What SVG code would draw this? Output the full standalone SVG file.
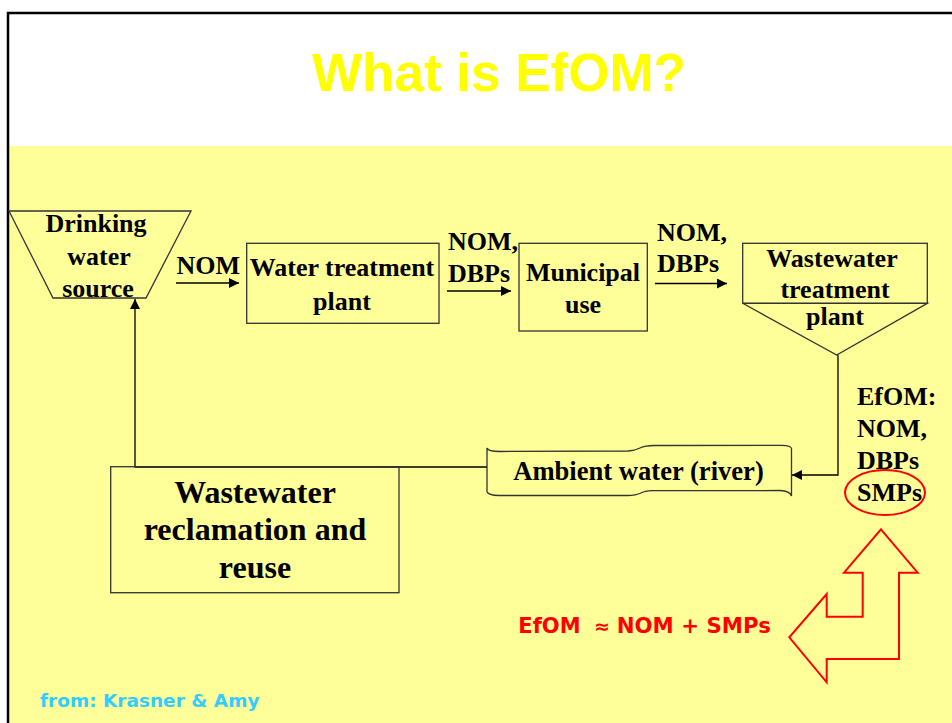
<svg xmlns="http://www.w3.org/2000/svg" width="952" height="723" viewBox="0 0 952 723">
<defs>
<style>
.lbl{font-family:"Liberation Serif","Times New Roman",serif;font-weight:bold;font-size:26px;fill:#000}
.big{font-family:"Liberation Serif","Times New Roman",serif;font-weight:bold;font-size:32px;fill:#000}
.box{fill:none;stroke:#333;stroke-width:1.3}
.con{fill:none;stroke:#000;stroke-width:1.3}
.red{fill:none;stroke:#FF0000;stroke-width:2}
</style>
<marker id="ah" viewBox="0 0 10 10" refX="10" refY="5" markerWidth="10" markerHeight="10" markerUnits="userSpaceOnUse" orient="auto">
<path d="M0,0 L10,5 L0,10 Z" fill="#000"/>
</marker>
</defs>
<rect x="0" y="0" width="952" height="723" fill="#fff"/>
<rect x="8" y="146" width="944" height="577" fill="#FFFF99"/>
<path d="M8,723 V13 H952" fill="none" stroke="#000" stroke-width="2.5"/>
<text x="499" y="91" text-anchor="middle" font-family="'Liberation Sans',Arial,sans-serif" font-weight="bold" font-size="53" fill="#FFFF00">What is EfOM?</text>

<g id="connectors">
<line class="con" x1="176" y1="283" x2="239" y2="283" marker-end="url(#ah)"/>
<line class="con" x1="447" y1="291" x2="511" y2="291" marker-end="url(#ah)"/>
<line class="con" x1="655" y1="283.5" x2="727" y2="283.5" marker-end="url(#ah)"/>
<polyline class="con" points="838,355 838,475 792,475" marker-end="url(#ah)"/>
<polyline class="con" points="487,467 135,467 135,299" marker-end="url(#ah)"/>
</g>

<g id="drinking-water-source">
<polygon class="box" points="9,211 191,211 146,298 53,298"/>
<text class="lbl" text-anchor="middle"><tspan x="96" y="232">Drinking</tspan><tspan x="99" y="265">water</tspan><tspan x="98" y="296.5">source</tspan></text>
</g>

<g id="nom-label-1"><text class="lbl" x="176.5" y="273.5">NOM</text></g>

<g id="water-treatment-plant">
<rect class="box" x="246.7" y="243.3" width="192.3" height="80"/>
<text class="lbl" text-anchor="middle"><tspan x="342" y="276">Water treatment</tspan><tspan x="342" y="309.5">plant</tspan></text>
</g>

<g id="nom-dbps-label-1"><text class="lbl"><tspan x="448" y="250">NOM,</tspan><tspan x="448" y="281.7">DBPs</tspan></text></g>

<g id="municipal-use">
<rect class="box" x="519" y="243.3" width="128.3" height="87.7"/>
<text class="lbl" text-anchor="middle"><tspan x="583" y="281">Municipal</tspan><tspan x="583" y="312.7">use</tspan></text>
</g>

<g id="nom-dbps-label-2"><text class="lbl"><tspan x="657" y="240.7">NOM,</tspan><tspan x="657" y="271.7">DBPs</tspan></text></g>

<g id="wastewater-treatment-plant">
<rect class="box" x="742.7" y="243.3" width="184.6" height="60"/>
<polygon class="box" points="742.7,303.3 927.3,303.3 836.7,355"/>
<text class="lbl" text-anchor="middle"><tspan x="832" y="266.7">Wastewater</tspan><tspan x="835" y="298.3">treatment</tspan><tspan x="835" y="325">plant</tspan></text>
</g>

<g id="efom-label">
<text class="lbl"><tspan x="857" y="405">EfOM:</tspan><tspan x="857" y="436.7">NOM,</tspan><tspan x="857" y="469.3">DBPs</tspan><tspan x="857" y="500.7">SMPs</tspan></text>
<ellipse class="red" cx="885" cy="492.5" rx="40" ry="22.5"/>
</g>

<g id="ambient-water">
<path class="box" style="fill:#FFFF99" d="M487,448 Q488,451.5 500,451.5 L628,451 Q635,450.5 640,448 Q645,445.5 654,445.5 L782,445.3 Q791,445.5 791.5,448.5 L791.5,496 Q790,491 780,490.5 L652,490.7 Q645,491 641,493 Q636,495.5 627,495.5 L499,495.5 Q488,495.3 487,491.5 Z"/>
<text class="lbl" x="638.5" y="480" text-anchor="middle" style="font-size:26.6px">Ambient water (river)</text>
</g>

<g id="wastewater-reclamation">
<rect class="box" x="110.7" y="466.7" width="288.3" height="126"/>
<text class="big" text-anchor="middle"><tspan x="255" y="503.3">Wastewater</tspan><tspan x="255" y="540">reclamation and</tspan><tspan x="255" y="578.3">reuse</tspan></text>
</g>

<g id="efom-equation">
<text font-family="'DejaVu Sans',Verdana,sans-serif" font-weight="bold" font-size="21" fill="#FF0000"><tspan x="518.3" y="633.3">EfOM</tspan><tspan x="594" y="633.3" font-size="19">≈</tspan><tspan x="616.7" y="633.3" font-size="21.3">NOM + SMPs</tspan></text>
</g>

<g id="bent-arrow">
<polygon class="red" points="881,529.3 917.7,572.7 899,572.7 899,659 826.7,659 826.7,682.3 789.3,637.3 826.7,594 826.7,616.7 862.7,616.7 862.7,572.7 844,572.7"/>
</g>

<g id="source-credit">
<text x="40" y="706.7" font-family="'DejaVu Sans',Verdana,sans-serif" font-weight="bold" font-size="18.5" fill="#33CCFF">from: Krasner &amp; Amy</text>
</g>
</svg>
